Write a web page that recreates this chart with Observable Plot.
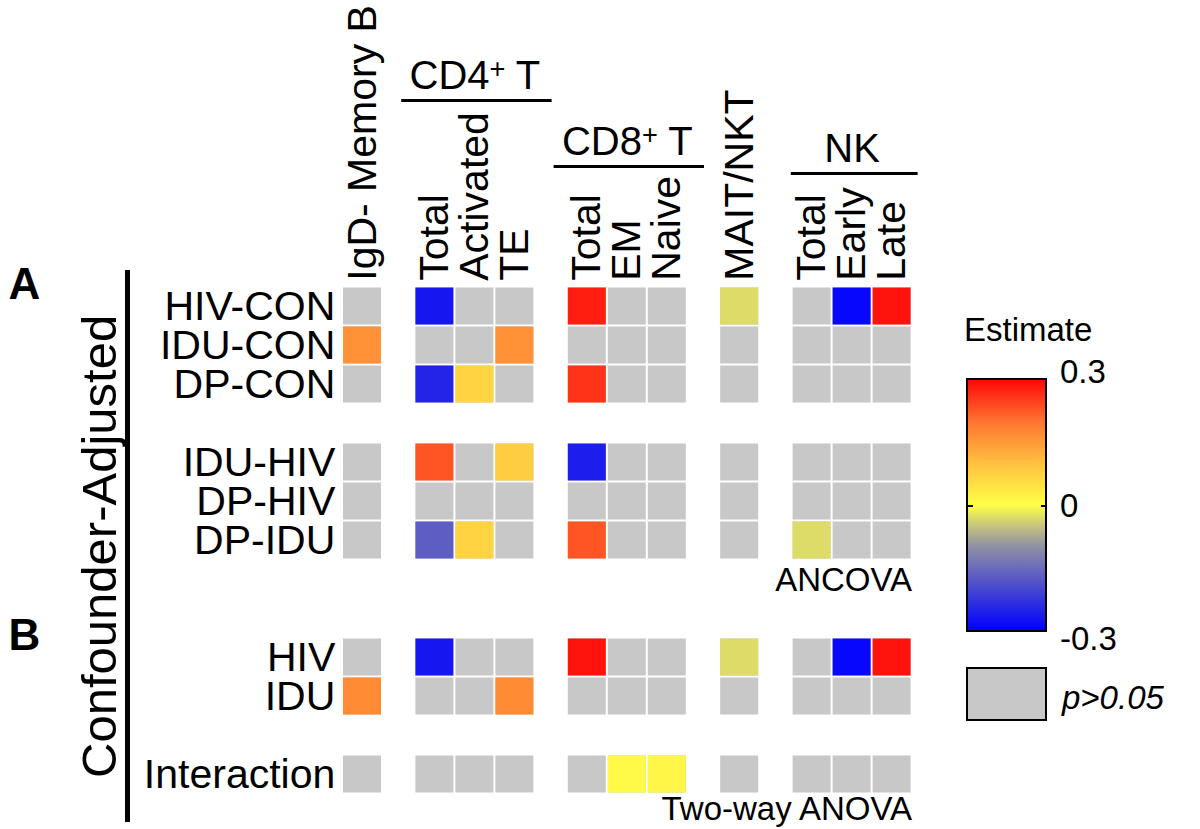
<!DOCTYPE html>
<html><head><meta charset="utf-8">
<script src="https://cdn.jsdelivr.net/npm/d3@7"></script>
<script src="https://cdn.jsdelivr.net/npm/@observablehq/plot@0.6"></script>
<style>
body{margin:0;background:#fff;font-family:"Liberation Sans",Arial,sans-serif;}
#wrap{position:relative;width:1200px;height:829px;overflow:hidden;}
#wrap svg{position:absolute;left:0;top:0}
.lg{position:absolute;color:#000;font-size:32px;line-height:1;white-space:nowrap}
</style></head><body><div id="wrap"></div>
<script>
// ---- data ----
const columns = ["IgD- Memory B","Total","Activated","TE","Total","EM","Naive","MAIT/NKT","Total","Early","Late"];
const columnGroups = ["IgD","CD4","CD4","CD4","CD8","CD8","CD8","MAIT","NK","NK","NK"];
const groupHeaders = [
  {group:"CD4", base:"CD4", sup:"+", tail:" T"},
  {group:"CD8", base:"CD8", sup:"+", tail:" T"},
  {group:"NK", base:"NK", sup:"", tail:""}
];
const rows = ["HIV-CON","IDU-CON","DP-CON","IDU-HIV","DP-HIV","DP-IDU","HIV","IDU","Interaction"];
const rowBlocks = [0,0,0,1,1,1,2,2,3];
const panelLabels = [{label:"A", block:0},{label:"B", block:2}];
const testLabels = [{label:"ANCOVA", block:1},{label:"Two-way ANOVA", block:3}];
// estimates (null = p>0.05)
const estimates = [
  [null,-0.27,null,null, 0.28,null,null,-0.03, null,-0.29,0.29],
  [0.16,null,null,0.16, null,null,null,null, null,null,null],
  [null,-0.25,0.07,null, 0.26,null,null,null, null,null,null],
  [null,0.23,null,0.08, -0.26,null,null,null, null,null,null],
  [null,null,null,null, null,null,null,null, null,null,null],
  [null,-0.17,0.07,null, 0.23,null,null,null, -0.03,null,null],
  [null,-0.27,null,null, 0.29,null,null,-0.03, null,-0.29,0.29],
  [0.17,null,null,0.17, null,null,null,null, null,null,null],
  [null,null,null,null, null,0.01,0.015,null, null,null,null]
];
const colorStops = [-0.3,-0.2,-0.1,-0.05,0,0.1,0.2,0.3];
const colorRange = ["#0000ff","#4848d0","#8f8fa6","#c6c47e","#ffff48","#ffc040","#ff7430","#ff0808"];
const legendTicks = [0.3,0,-0.3];

// ---- layout helpers ----
const FONT = '"Liberation Sans", Arial, sans-serif';
const GROUP_GAP = 0.81;
const BLOCK_OFFSET = [0,1,3,4];
const groupOrder = [...new Set(columnGroups)];
const colPos = columns.map((c,i)=> i + groupOrder.indexOf(columnGroups[i])*GROUP_GAP);
const rowPos = rows.map((r,i)=> i + BLOCK_OFFSET[rowBlocks[i]]);
const cells = rows.flatMap((r,i)=> columns.map((c,j)=>({row:r, col:c, x:colPos[j], y:rowPos[i], value:estimates[i][j]})));
const colLabels = columns.map((c,j)=>({label:c, x:colPos[j]}));
const headerLevel = {CD4:-5.28, CD8:-3.59, NK:-3.41};
const headerPad = {CD4:[0.83,0.93], CD8:[0.83,0.93], NK:[0.52,0.65]};
const headers = groupHeaders.map(h=>{
  const xs = colPos.filter((p,j)=>columnGroups[j]===h.group);
  return {...h, label: h.base + h.sup + h.tail, x1: d3.min(xs)-headerPad[h.group][0], x2: d3.max(xs)+headerPad[h.group][1], xm: d3.mean(xs), y: headerLevel[h.group]};
});
const rowLabels = rows.map((r,i)=>({label:r, y:rowPos[i]}));
const blockFirst = b => d3.min(rowPos.filter((p,i)=>rowBlocks[i]===b));
const blockLast = b => d3.max(rowPos.filter((p,i)=>rowBlocks[i]===b));
const xRight = d3.max(colPos) + 0.5;
const testOffset = [0, 1.02, 0, 0.9];

const plot = Plot.plot({
  width: 1200, height: 829,
  style: {fontFamily: FONT, background: "white", color: "black"},
  x: {domain:[0,10], range:[362,762], axis:null},
  y: {domain:[0,12], range:[306,774], axis:null},
  color: {type:"linear", domain: colorStops, range: colorRange, interpolate:"rgb"},
  marks: [
    Plot.rect(cells, {x1:d=>d.x-0.5, x2:d=>d.x+0.5, y1:d=>d.y-0.5, y2:d=>d.y+0.5, fill:"#c8c8c8", inset:1}),
    Plot.rect(cells.filter(d=>d.value!=null), {x1:d=>d.x-0.5, x2:d=>d.x+0.5, y1:d=>d.y-0.5, y2:d=>d.y+0.5, fill:"value", inset:1}),
    Plot.text(colLabels, {x:"x", y:()=>-0.66, text:"label", rotate:-90, textAnchor:"start", lineAnchor:"middle", fontSize:41, fill:"black"}),
    Plot.text(rowLabels, {x:()=>-0.68, y:"y", text:"label", textAnchor:"end", lineAnchor:"middle", fontSize:41, fill:"black"}),
    Plot.ruleY(headers, {y:"y", x1:"x1", x2:"x2", strokeWidth:3, stroke:"black"}),
    Plot.text(headers, {x:"xm", y:d=>d.y-0.62, text:"label", textAnchor:"middle", lineAnchor:"middle", fontSize:40, fill:"black", className:"grouphdr"}),
    Plot.text(testLabels, {x:()=>xRight, y:d=>blockLast(d.block)+testOffset[d.block], text:"label", textAnchor:"end", lineAnchor:"middle", fontSize:33, fill:"black"}),
    Plot.text(panelLabels, {x:()=>-8.85, y:d=>blockFirst(d.block)-0.55, text:"label", textAnchor:"start", lineAnchor:"middle", fontSize:44, fontWeight:"bold", fill:"black"}),
    Plot.ruleX([0], {x:()=>-5.875, y1:()=>blockFirst(0)-0.92, y2:()=>blockLast(3)+1.23, strokeWidth:5, stroke:"black"}),
    Plot.text(["Confounder-Adjusted"], {x:()=>-6.55, y:()=>6.15, text:d=>d, rotate:-90, textAnchor:"middle", lineAnchor:"middle", fontSize:49, fill:"black"})
  ]
});
const wrap = document.getElementById("wrap");
wrap.appendChild(plot);

// superscripts in the group headers
d3.select(plot).selectAll("g.grouphdr text").each(function(d,i){
  const h = headers[i];
  if (!h || !h.sup) return;
  const t = d3.select(this);
  t.text(null);
  t.append("tspan").text(h.base);
  t.append("tspan").attr("dy","-0.42em").attr("font-size","0.68em").text(h.sup);
  t.append("tspan").attr("dy","0.29em").text(h.tail);
});
// fallback if className selection differs
if (d3.select(plot).selectAll("g.grouphdr text").empty()) {
  d3.select(plot).selectAll("text").each(function(){
    const s = this.textContent;
    const h = headers.find(h=>h.sup && s===h.label);
    if (!h) return;
    const t = d3.select(this);
    t.text(null);
    t.append("tspan").text(h.base);
    t.append("tspan").attr("dy","-0.42em").attr("font-size","0.68em").text(h.sup);
    t.append("tspan").attr("dy","0.29em").text(h.tail);
  });
}

// ---- legend (HTML overlay) ----
const BAR = {left:966, top:378, width:82, height:255};
function add(html, css){ const d=document.createElement("div"); d.className="lg"; d.innerHTML=html; Object.assign(d.style, css); wrap.appendChild(d); return d; }
add("Estimate", {left:"964px", top:"313px", fontSize:"33px"});
const stops = colorStops.map((v,i)=>`${colorRange[i]} ${((v-colorStops[0])/(colorStops[colorStops.length-1]-colorStops[0])*100).toFixed(1)}%`).join(",");
add("", {left:BAR.left+"px", top:BAR.top+"px", width:(BAR.width-5)+"px", height:(BAR.height-5)+"px", border:"2.5px solid #000", background:`linear-gradient(to top, ${stops})`});
const yOf = v => BAR.top + BAR.height*(0.3 - v)/0.6;
add("", {left:(BAR.left+2)+"px", top:(yOf(0)-1)+"px", width:"5px", height:"2px", background:"#000"});
add("", {left:(BAR.left+BAR.width-7)+"px", top:(yOf(0)-1)+"px", width:"5px", height:"2px", background:"#000"});
legendTicks.forEach(v=>{
  const off = v===0.3 ? -6 : v===-0.3 ? 6 : 0;
  add(String(v), {left:"1060px", top:(yOf(v)+off-17)+"px", fontSize:"33px"});
});
add("", {left:BAR.left+"px", top:"667px", width:(BAR.width-5)+"px", height:"50px", border:"2.5px solid #000", background:"#c8c8c8"});
add("<i>p&gt;0.05</i>", {left:"1062px", top:"681px", fontSize:"33px"});
</script></body></html>
